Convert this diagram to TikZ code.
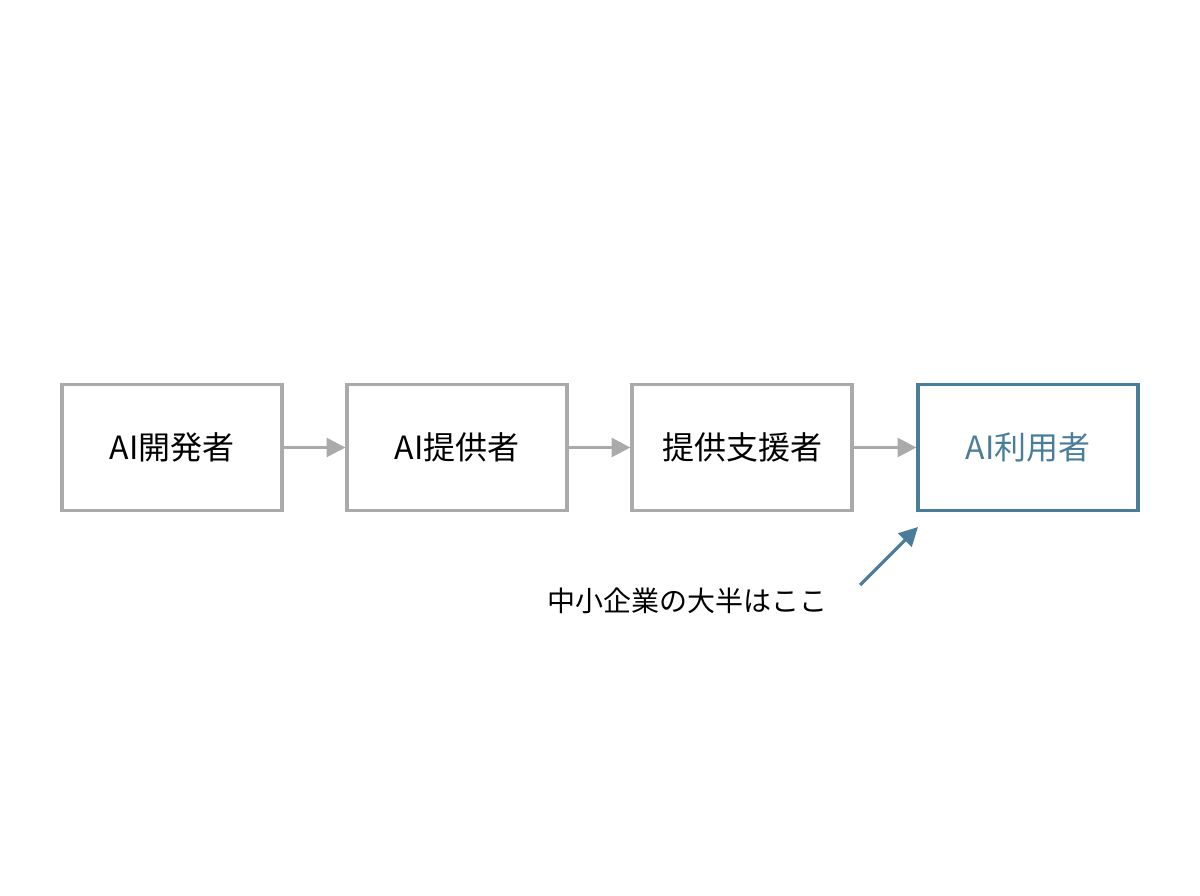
\documentclass[tikz,border=0pt]{standalone}
\usepackage{fontspec}
\setmainfont{Noto Sans CJK JP}
\usetikzlibrary{arrows.meta}
\definecolor{gr}{HTML}{AAAAAA}
\definecolor{bl}{HTML}{4A7D9A}
\begin{document}
\begin{tikzpicture}[x=0.75pt,y=-0.75pt,
 box/.style={draw=gr,line width=2.4pt,minimum width=165pt,minimum height=95pt,inner sep=0pt,font=\fontsize{24}{28}\selectfont},
 arr/.style={draw=gr,line width=2.4pt,-{Triangle[length=14pt,width=14pt]}}]
\useasboundingbox (0,0) rectangle (1200,896);
\node[box] (a) at (172,447.5) {AI開発者};
\node[box] (b) at (457,447.5) {AI提供者};
\node[box] (c) at (742,447.5) {提供支援者};
\node[box,draw=bl,text=bl] (d) at (1028,447.5) {AI利用者};
\draw[arr] (a) -- (b);
\draw[arr] (b) -- (c);
\draw[arr] (c) -- (d);
\node[font=\fontsize{21}{25}\selectfont] (t) at (687,601) {中小企業の大半はここ};
\coordinate (s) at (860,585);
\coordinate (e) at (918,527);
\draw[draw=bl,line width=2.4pt,-{Triangle[length=14pt,width=14pt]}] (s) -- (e);
\end{tikzpicture}
\end{document}
